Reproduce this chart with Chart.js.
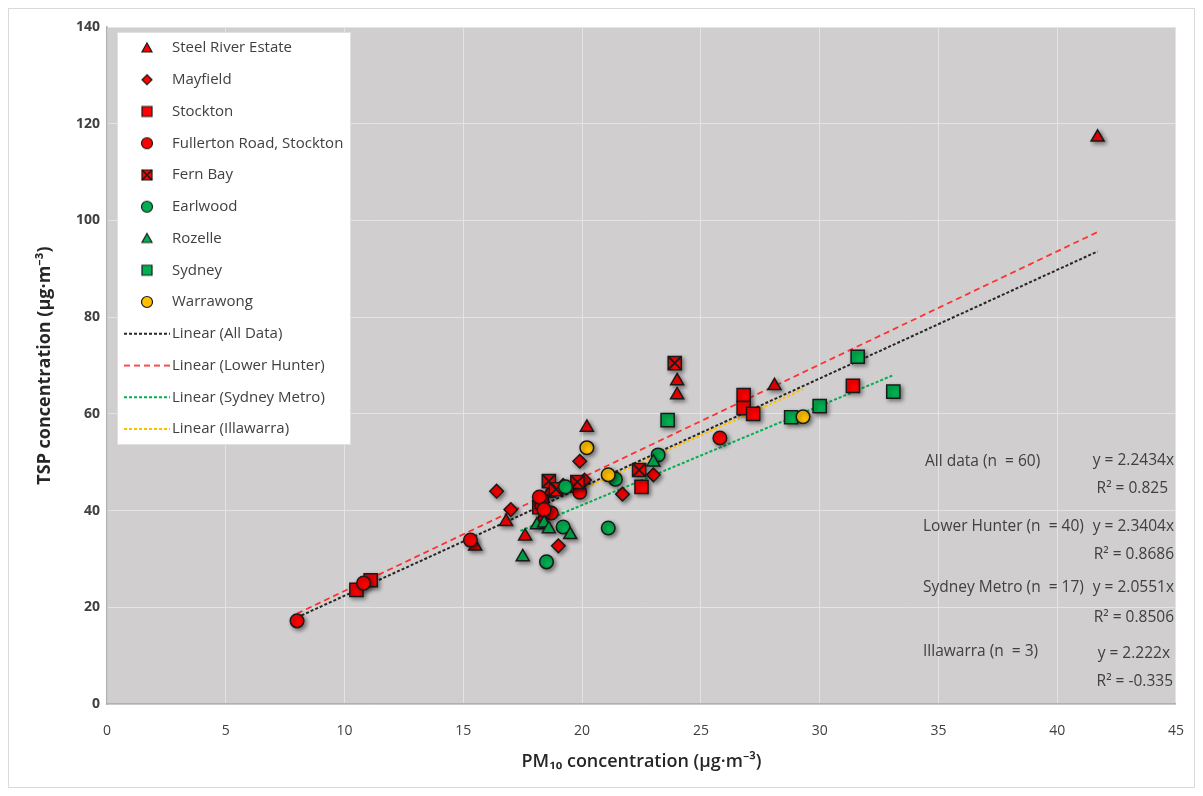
<!DOCTYPE html>
<html><head><meta charset="utf-8">
<script src="https://cdn.jsdelivr.net/npm/chart.js@4.4.1/dist/chart.umd.min.js"></script>
<style>html,body{margin:0;padding:0;background:#fff;}canvas{display:block;}</style>
</head><body>
<canvas id="c" width="1203" height="796"></canvas>
<script>
// ---- data (PM10, TSP) ----
const steelRiver = [[41.7,117.2],[24.0,66.8],[24.0,63.9],[28.1,65.8],[20.2,57.2],[16.8,37.7],[17.6,34.7],[15.5,32.6],[18.3,38.3],[18.6,43.6]];
const mayfield   = [[16.4,44.0],[17.0,40.2],[19.9,50.2],[21.7,43.4],[19.0,32.7],[23.0,47.4],[20.1,46.3],[19.2,45.2]];
const stockton   = [[10.5,23.6],[11.1,25.6],[26.8,63.9],[26.8,61.2],[27.2,60.0],[31.4,65.8],[22.5,44.9],[18.2,40.7],[18.3,41.8]];
const fullerton  = [[8.0,17.2],[10.8,25.0],[15.3,33.9],[25.8,55.0],[18.2,42.8],[18.7,39.5],[19.9,43.8],[18.4,40.2]];
const fernBay    = [[23.9,70.5],[22.4,48.4],[18.6,46.1],[19.8,45.9],[18.9,44.4]];
const earlwood   = [[19.3,44.9],[21.4,46.5],[23.2,51.5],[19.2,36.6],[21.1,36.4],[18.5,29.4]];
const rozelle    = [[17.5,30.4],[18.1,37.0],[18.4,37.4],[18.6,36.2],[19.5,35.0],[23.0,50.0]];
const sydney     = [[23.6,58.7],[28.8,59.3],[30.0,61.6],[31.6,71.8],[33.1,64.6]];
const warrawong  = [[20.2,53.0],[21.1,47.4],[29.3,59.4]];
// trend line end points
const lineAllData     = [[8.0,17.9],[41.7,93.6]];
const lineLowerHunter = [[8.0,18.7],[41.7,97.6]];
const lineSydneyMetro = [[17.4,35.8],[33.1,68.0]];
const lineIllawarra   = [[20.2,44.9],[29.3,65.1]];
const xTicks = [0,5,10,15,20,25,30,35,40,45];
const yTicks = [0,20,40,60,80,100,120,140];
const fitLabels = ['All data (n  = 60)','Lower Hunter (n  = 40)','Sydney Metro (n  = 17)','Illawarra (n  = 3)'];
const fitEquations = ['y = 2.2434x','y = 2.3404x','y = 2.0551x','y = 2.222x'];
const fitR2 = ['R² = 0.825','R² = 0.8686','R² = 0.8506','R² = -0.335'];

const RED='#FF0000', GREEN='#00B050', YELLOW='#FFC000', EDGE='#1a1a1a';
const pts = a => a.map(p => ({x:p[0], y:p[1]}));

function makeIcon(kind, fill){
  const c=document.createElement('canvas'); c.width=16; c.height=16;
  const g=c.getContext('2d'); g.fillStyle=fill; g.strokeStyle=EDGE; g.lineWidth=1.2;
  const cx=8, cy=8; g.beginPath();
  if(kind==='triangle'){ g.moveTo(cx,cy-5); g.lineTo(cx+5,cy+4); g.lineTo(cx-5,cy+4); g.closePath(); }
  else if(kind==='diamond'){ g.moveTo(cx,cy-5); g.lineTo(cx+5,cy); g.lineTo(cx,cy+5); g.lineTo(cx-5,cy); g.closePath(); }
  else if(kind==='rect'||kind==='xrect'){ g.rect(cx-5,cy-5,10,10); }
  else { g.arc(cx,cy,5.5,0,Math.PI*2); }
  g.fill(); g.stroke();
  if(kind==='xrect'){ g.beginPath(); g.lineWidth=1.6; g.moveTo(cx-5,cy-5); g.lineTo(cx+5,cy+5); g.moveTo(cx+5,cy-5); g.lineTo(cx-5,cy+5); g.stroke(); }
  return c;
}
function makeLineIcon(color, dash, w){
  const c=document.createElement('canvas'); c.width=46; c.height=4;
  const g=c.getContext('2d'); g.strokeStyle=color; g.lineWidth=w; g.setLineDash(dash);
  g.beginPath(); g.moveTo(0,2); g.lineTo(46,2); g.stroke(); return c;
}

function markerSet(label, data, style, radius, fill, order, icon){
  return {label, data: pts(data), pointStyle: style, pointRadius: radius, pointHoverRadius: radius,
    backgroundColor: fill, borderColor: EDGE, borderWidth: 1.5, order, shadow: true, icon};
}
function lineSet(label, data, color, dash, w, icon){
  return {label, data: pts(data), showLine: true, pointRadius: 0, pointHoverRadius: 0, borderColor: color,
    backgroundColor: color, borderWidth: w, borderDash: dash, fill: false, order: 40, icon};
}

const datasets = [
  markerSet('Steel River Estate', steelRiver, 'triangle', 7.5, RED, 20, makeIcon('triangle',RED)),
  markerSet('Mayfield', mayfield, 'rectRot', 6.8, RED, 19, makeIcon('diamond',RED)),
  markerSet('Stockton', stockton, 'rect', 9.3, RED, 18, makeIcon('rect',RED)),
  markerSet('Fullerton Road, Stockton', fullerton, 'circle', 6.8, RED, 17, makeIcon('circle',RED)),
  markerSet('Fern Bay', fernBay, 'rect', 9.3, RED, 16, makeIcon('xrect',RED)),
  markerSet('Earlwood', earlwood, 'circle', 6.8, GREEN, 14, makeIcon('circle',GREEN)),
  markerSet('Rozelle', rozelle, 'triangle', 7.5, GREEN, 13, makeIcon('triangle',GREEN)),
  markerSet('Sydney', sydney, 'rect', 9.3, GREEN, 12, makeIcon('rect',GREEN)),
  markerSet('Warrawong', warrawong, 'circle', 6.8, YELLOW, 11, makeIcon('circle',YELLOW)),
  lineSet('Linear (All Data)', lineAllData, '#262626', [3,2], 2, makeLineIcon('#262626',[3,2],2)),
  lineSet('Linear (Lower Hunter)', lineLowerHunter, '#FF3030', [6,4], 1.75, makeLineIcon('#FF3030',[6,4],1.75)),
  lineSet('Linear (Sydney Metro)', lineSydneyMetro, '#00B050', [3,2], 2, makeLineIcon('#00B050',[3,2],2)),
  lineSet('Linear (Illawarra)', lineIllawarra, '#FFC000', [3,2], 2, makeLineIcon('#FFC000',[3,2],2))
];
// X overlay on Fern Bay squares
datasets.push({label:'_fernX', data: pts(fernBay), pointStyle:'crossRot', pointRadius:9.3, pointHoverRadius:9.3,
  borderColor: EDGE, backgroundColor: EDGE, borderWidth: 1.8, order: 15.5, noLegend: true});

const FONT = "'Open Sans', 'Noto Sans', sans-serif";

const bgPlugin = {
  id:'bg',
  beforeDraw(chart){
    const {ctx, chartArea:a, width, height} = chart;
    ctx.save();
    ctx.fillStyle='#fff'; ctx.fillRect(0,0,width,height);
    ctx.strokeStyle='#D9D9D9'; ctx.lineWidth=1; ctx.strokeRect(8.5,8.5,width-17,height-17);
    ctx.fillStyle='#D0CECE'; ctx.fillRect(a.left,a.top,a.right-a.left,a.bottom-a.top);
    ctx.restore();
  }
};
const shadowPlugin = {
  id:'shadow',
  beforeDatasetDraw(chart, args){
    const ds = chart.data.datasets[args.index];
    if(ds.shadow){ const c=chart.ctx; c.save(); c.shadowColor='rgba(0,0,0,0.45)'; c.shadowBlur=4; c.shadowOffsetX=2; c.shadowOffsetY=2; ds._sh=true; }
  },
  afterDatasetDraw(chart, args){
    const ds = chart.data.datasets[args.index];
    if(ds._sh){ chart.ctx.restore(); ds._sh=false; }
  }
};
const annotPlugin = {
  id:'annot',
  afterDatasetsDraw(chart){
    const ctx=chart.ctx;
    ctx.save();
    ctx.font = "15.5px " + FONT; ctx.fillStyle='#404040'; ctx.textBaseline='middle';
    const leftX=[925,923,923,923], leftY=[462,527,588,652];
    const eqX=[1174,1174,1174,1170], eqY=[461,527,588,654];
    const rX=[1168,1174,1174,1173], rY=[489,555,618,682];
    for(let i=0;i<4;i++){
      ctx.textAlign='left'; ctx.fillText(fitLabels[i], leftX[i], leftY[i]);
      ctx.textAlign='right'; ctx.fillText(fitEquations[i], eqX[i], eqY[i]);
      ctx.fillText(fitR2[i], rX[i], rY[i]);
    }
    ctx.restore();
  }
};
const legendBoxPlugin = {
  id:'legendBox',
  afterLayout(chart){
    const lg = chart.legend;
    if(!lg || lg._wrapped) return;
    lg._wrapped = true;
    const orig = lg.draw.bind(lg);
    lg.draw = function(area){
      const ctx=chart.ctx, ca=chart.chartArea;
      ctx.save();
      ctx.fillStyle='#fff'; ctx.fillRect(ca.left+10, ca.top+5, 234, 413);
      ctx.strokeStyle='#E0E0E0'; ctx.lineWidth=1; ctx.strokeRect(ca.left+10.5, ca.top+5.5, 233, 412);
      const pad = lg.options.labels.padding;
      ctx.translate(ca.left+22.5-(lg.left+pad), ca.top+13.5-(lg.top+pad));
      orig(area);
      ctx.restore();
    };
  }
};

new Chart(document.getElementById('c'), {
  type:'scatter',
  data:{ datasets },
  options:{
    responsive:false, animation:false, devicePixelRatio:1,
    layout:{ padding:{ top:27, right:20, left:0, bottom:0 } },
    plugins:{
      tooltip:{enabled:false},
      legend:{
        position:'chartArea', align:'start',
        labels:{
          usePointStyle:true, pointStyleWidth:35, padding:16.75,
          font:{ family: FONT, size:15 }, color:'#404040',
          generateLabels(chart){
            return chart.data.datasets.map((d,i)=>({d,i})).filter(o=>!o.d.noLegend).map(o=>({
              text:o.d.label, pointStyle:o.d.icon, datasetIndex:o.i, hidden:!chart.isDatasetVisible(o.i),
              fontColor:'#404040', lineWidth:0, strokeStyle:'rgba(0,0,0,0)', fillStyle:'rgba(0,0,0,0)'
            }));
          }
        }
      }
    },
    scales:{
      x:{
        type:'linear', min:0, max:45,
        afterBuildTicks(s){ s.ticks = xTicks.map(v=>({value:v})); },
        afterFit(s){ s.height = 92; },
        grid:{ color:'#E4E4E4', lineWidth:1, drawTicks:false },
        border:{ display:true, color:'#B0B0B0', width:1.5 },
        ticks:{ padding:19, font:{ family: FONT, size:14 }, color:'#404040' },
        title:{ display:true, text:'PM₁₀ concentration (μg·m⁻³)', font:{ family: FONT, size:18, weight:'600' }, color:'#262626', padding:{ top:0, bottom:23 } }
      },
      y:{
        type:'linear', min:0, max:140,
        afterBuildTicks(s){ s.ticks = yTicks.map(v=>({value:v})); },
        afterFit(s){ s.width = 107; },
        grid:{ color:'#E4E4E4', lineWidth:1, drawTicks:false },
        border:{ display:true, color:'#B0B0B0', width:1.5 },
        ticks:{ padding:7, font:{ family: FONT, size:14, weight:'bold' }, color:'#404040' },
        title:{ display:true, text:'TSP concentration (μg·m⁻³)', font:{ family: FONT, size:18, weight:'bold' }, color:'#262626', padding:{ top:34, bottom:0 } }
      }
    }
  },
  plugins:[bgPlugin, shadowPlugin, annotPlugin, legendBoxPlugin]
});
</script>
</body></html>
